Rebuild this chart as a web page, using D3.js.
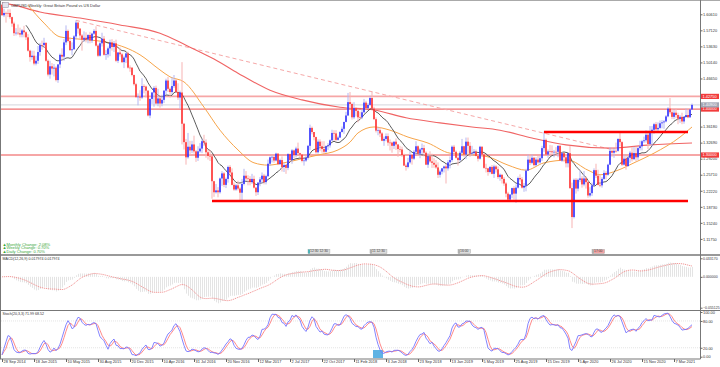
<!DOCTYPE html>
<html lang="en">
<head>
<meta charset="utf-8">
<style>
  html, body { margin:0; padding:0; overflow:hidden; background:#fff; }
  svg { display:block; font-family:"Liberation Sans", Arial, sans-serif; }
  .tick text { font-size:3.9px; fill:#333; }
  .tick line { stroke:#666; }
</style>
</head>
<body>
<svg width="720" height="367"></svg>

<script src="https://cdn.jsdelivr.net/npm/d3@7"></script>
<script>
// GBPUSD weekly candles, week of 28 Sep 2014 .. week of 9 May 2021
var opens = [
1.627,1.604,1.609,1.609,1.609,1.600,1.586,1.565,1.566,1.565,
1.562,1.571,1.567,1.556,1.527,1.513,1.516,1.499,1.505,1.524,
1.539,1.539,1.544,1.505,1.475,1.493,1.488,1.490,1.463,1.497,
1.518,1.514,1.545,1.570,1.548,1.528,1.530,1.558,1.588,1.575,
1.560,1.551,1.555,1.551,1.561,1.549,1.564,1.570,1.538,1.516,
1.543,1.553,1.518,1.519,1.532,1.545,1.535,1.543,1.505,1.523,
1.519,1.502,1.512,1.521,1.490,1.490,1.474,1.454,1.426,1.427,
1.425,1.450,1.449,1.440,1.386,1.422,1.436,1.446,1.412,1.423,
1.412,1.420,1.440,1.462,1.444,1.437,1.450,1.462,1.437,1.425,
1.436,1.368,1.328,1.295,1.318,1.310,1.323,1.308,1.294,1.308,
1.314,1.330,1.327,1.306,1.298,1.297,1.243,1.219,1.223,1.219,
1.249,1.260,1.235,1.248,1.274,1.262,1.235,1.225,1.234,1.227,
1.218,1.237,1.255,1.249,1.248,1.241,1.248,1.229,1.219,1.240,
1.247,1.255,1.241,1.254,1.281,1.295,1.296,1.288,1.303,1.280,
1.289,1.274,1.278,1.272,1.302,1.289,1.310,1.300,1.314,1.304,
1.301,1.287,1.288,1.294,1.320,1.359,1.350,1.339,1.306,1.329,
1.319,1.313,1.307,1.319,1.321,1.332,1.348,1.347,1.333,1.338,
1.350,1.357,1.372,1.386,1.415,1.411,1.382,1.402,1.396,1.382,
1.382,1.393,1.414,1.402,1.409,1.424,1.401,1.378,1.353,1.354,
1.347,1.331,1.335,1.341,1.327,1.327,1.320,1.329,1.323,1.313,
1.312,1.300,1.277,1.274,1.284,1.300,1.292,1.307,1.319,1.303,
1.312,1.315,1.305,1.279,1.297,1.286,1.283,1.279,1.273,1.257,
1.264,1.271,1.275,1.271,1.284,1.289,1.318,1.307,1.294,1.289,
1.305,1.319,1.301,1.329,1.320,1.303,1.304,1.307,1.298,1.292,
1.318,1.301,1.272,1.271,1.263,1.274,1.259,1.275,1.269,1.252,
1.257,1.248,1.238,1.216,1.203,1.214,1.228,1.216,1.229,1.250,
1.247,1.229,1.233,1.266,1.290,1.283,1.294,1.278,1.290,1.284,
1.293,1.315,1.333,1.301,1.308,1.308,1.306,1.307,1.307,1.320,
1.288,1.304,1.295,1.282,1.304,1.228,1.165,1.246,1.227,1.246,
1.249,1.236,1.249,1.241,1.212,1.217,1.234,1.267,1.255,1.235,
1.234,1.248,1.261,1.257,1.279,1.309,1.305,1.309,1.309,1.335,
1.328,1.279,1.292,1.276,1.294,1.305,1.291,1.304,1.295,1.315,
1.319,1.330,1.332,1.344,1.324,1.352,1.355,1.367,1.356,1.359,
1.369,1.371,1.373,1.384,1.401,1.393,1.383,1.392,1.387,1.379,
1.383,1.373,1.383,1.387,1.382,1.399];

var highs = [
1.628,1.618,1.612,1.617,1.617,1.601,1.590,1.576,1.584,1.577,
1.574,1.581,1.569,1.563,1.529,1.527,1.527,1.516,1.537,1.544,
1.549,1.555,1.545,1.508,1.505,1.500,1.498,1.493,1.498,1.521,
1.532,1.552,1.582,1.573,1.556,1.545,1.561,1.593,1.590,1.576,
1.563,1.569,1.567,1.563,1.568,1.566,1.574,1.580,1.541,1.546,
1.566,1.559,1.528,1.536,1.551,1.552,1.548,1.551,1.524,1.534,
1.522,1.516,1.523,1.525,1.495,1.491,1.475,1.457,1.434,1.441,
1.467,1.454,1.451,1.441,1.423,1.437,1.450,1.451,1.444,1.428,
1.431,1.441,1.466,1.470,1.447,1.469,1.474,1.465,1.456,1.440,
1.502,1.370,1.335,1.348,1.331,1.331,1.342,1.311,1.319,1.326,
1.335,1.344,1.334,1.312,1.310,1.298,1.244,1.237,1.230,1.251,
1.265,1.263,1.251,1.277,1.278,1.271,1.240,1.237,1.244,1.230,
1.248,1.270,1.265,1.256,1.254,1.259,1.255,1.230,1.241,1.252,
1.262,1.259,1.257,1.290,1.297,1.299,1.297,1.305,1.304,1.292,
1.297,1.282,1.281,1.304,1.303,1.313,1.312,1.318,1.327,1.305,
1.302,1.295,1.298,1.322,1.366,1.362,1.350,1.340,1.334,1.334,
1.330,1.330,1.321,1.326,1.334,1.355,1.354,1.354,1.342,1.352,
1.362,1.372,1.394,1.435,1.437,1.414,1.415,1.404,1.400,1.394,
1.401,1.422,1.418,1.413,1.429,1.438,1.405,1.382,1.360,1.361,
1.350,1.340,1.347,1.347,1.334,1.329,1.329,1.336,1.323,1.320,
1.318,1.303,1.281,1.294,1.310,1.301,1.311,1.330,1.321,1.315,
1.325,1.322,1.308,1.304,1.308,1.303,1.293,1.289,1.284,1.268,
1.272,1.277,1.280,1.289,1.297,1.321,1.322,1.310,1.297,1.309,
1.335,1.320,1.338,1.338,1.328,1.320,1.313,1.312,1.300,1.320,
1.319,1.304,1.281,1.272,1.276,1.278,1.279,1.278,1.275,1.260,
1.258,1.252,1.241,1.220,1.215,1.229,1.232,1.236,1.253,1.258,
1.252,1.239,1.270,1.301,1.301,1.301,1.296,1.295,1.298,1.298,
1.320,1.351,1.336,1.312,1.322,1.321,1.311,1.317,1.321,1.321,
1.307,1.305,1.302,1.306,1.320,1.240,1.249,1.250,1.249,1.267,
1.254,1.265,1.253,1.245,1.230,1.240,1.271,1.281,1.268,1.256,
1.252,1.267,1.265,1.281,1.317,1.317,1.315,1.327,1.336,1.348,
1.330,1.301,1.298,1.298,1.309,1.317,1.318,1.318,1.318,1.331,
1.333,1.340,1.354,1.353,1.363,1.363,1.370,1.372,1.371,1.375,
1.376,1.376,1.387,1.404,1.424,1.402,1.399,1.401,1.392,1.387,
1.392,1.384,1.401,1.400,1.400,1.412];

var lows = [
1.603,1.600,1.588,1.600,1.596,1.579,1.559,1.560,1.561,1.556,
1.556,1.556,1.550,1.525,1.503,1.507,1.495,1.495,1.498,1.516,
1.529,1.533,1.503,1.471,1.466,1.475,1.471,1.460,1.457,1.489,
1.506,1.505,1.539,1.545,1.527,1.517,1.529,1.551,1.564,1.551,
1.527,1.546,1.545,1.543,1.543,1.544,1.561,1.536,1.513,1.514,
1.536,1.516,1.507,1.512,1.515,1.527,1.524,1.502,1.500,1.514,
1.500,1.489,1.500,1.488,1.481,1.471,1.451,1.424,1.408,1.418,
1.422,1.434,1.425,1.384,1.380,1.411,1.405,1.410,1.406,1.403,
1.406,1.413,1.432,1.437,1.425,1.432,1.446,1.435,1.420,1.401,
1.323,1.312,1.279,1.292,1.300,1.304,1.303,1.285,1.287,1.305,
1.304,1.320,1.294,1.290,1.287,1.205,1.209,1.216,1.208,1.216,
1.233,1.230,1.228,1.240,1.256,1.234,1.222,1.222,1.223,1.200,
1.199,1.234,1.245,1.234,1.234,1.237,1.227,1.211,1.213,1.232,
1.238,1.236,1.236,1.252,1.276,1.284,1.283,1.286,1.278,1.279,
1.264,1.263,1.259,1.267,1.285,1.281,1.293,1.295,1.303,1.294,
1.284,1.277,1.285,1.290,1.311,1.345,1.332,1.303,1.303,1.309,
1.305,1.303,1.305,1.311,1.316,1.330,1.331,1.330,1.331,1.337,
1.349,1.346,1.371,1.385,1.404,1.377,1.378,1.384,1.371,1.378,
1.378,1.391,1.399,1.400,1.407,1.400,1.376,1.349,1.343,1.339,
1.330,1.320,1.330,1.320,1.310,1.305,1.313,1.311,1.296,1.306,
1.296,1.276,1.266,1.271,1.281,1.279,1.289,1.301,1.299,1.293,
1.301,1.297,1.278,1.272,1.283,1.272,1.272,1.270,1.250,1.251,
1.258,1.262,1.238,1.266,1.271,1.285,1.300,1.292,1.277,1.286,
1.302,1.296,1.291,1.300,1.296,1.298,1.302,1.297,1.286,1.290,
1.296,1.270,1.262,1.255,1.260,1.258,1.250,1.262,1.248,1.244,
1.238,1.233,1.208,1.202,1.200,1.206,1.203,1.196,1.227,1.242,
1.227,1.220,1.221,1.265,1.278,1.280,1.275,1.276,1.281,1.281,
1.287,1.307,1.300,1.294,1.300,1.301,1.295,1.298,1.295,1.287,
1.285,1.285,1.273,1.273,1.226,1.141,1.162,1.216,1.221,1.241,
1.229,1.232,1.227,1.207,1.208,1.211,1.232,1.250,1.234,1.230,
1.229,1.246,1.247,1.255,1.278,1.296,1.294,1.305,1.307,1.319,
1.276,1.277,1.268,1.274,1.283,1.286,1.289,1.286,1.289,1.310,
1.310,1.326,1.327,1.313,1.322,1.319,1.346,1.353,1.350,1.356,
1.358,1.357,1.371,1.382,1.389,1.378,1.378,1.380,1.367,1.370,
1.367,1.368,1.381,1.380,1.381,1.398];

var closes = [
1.604,1.609,1.609,1.609,1.600,1.586,1.565,1.566,1.565,1.562,
1.571,1.567,1.556,1.527,1.513,1.516,1.499,1.505,1.524,1.539,
1.539,1.544,1.505,1.475,1.493,1.488,1.490,1.463,1.497,1.518,
1.514,1.545,1.570,1.548,1.528,1.530,1.558,1.588,1.575,1.560,
1.551,1.555,1.551,1.561,1.549,1.564,1.570,1.538,1.516,1.543,
1.553,1.518,1.519,1.532,1.545,1.535,1.543,1.505,1.523,1.519,
1.502,1.512,1.521,1.490,1.490,1.474,1.454,1.426,1.427,1.425,
1.450,1.449,1.440,1.386,1.422,1.436,1.446,1.412,1.423,1.412,
1.420,1.440,1.462,1.444,1.437,1.450,1.462,1.437,1.425,1.436,
1.368,1.328,1.295,1.318,1.310,1.323,1.308,1.294,1.308,1.314,
1.330,1.327,1.306,1.298,1.297,1.243,1.219,1.223,1.219,1.249,
1.260,1.235,1.248,1.274,1.262,1.235,1.225,1.234,1.227,1.218,
1.237,1.255,1.249,1.248,1.241,1.248,1.229,1.219,1.240,1.247,
1.255,1.241,1.254,1.281,1.295,1.296,1.288,1.303,1.280,1.289,
1.274,1.278,1.272,1.302,1.289,1.310,1.300,1.314,1.304,1.301,
1.287,1.288,1.294,1.320,1.359,1.350,1.339,1.306,1.329,1.319,
1.313,1.307,1.319,1.321,1.332,1.348,1.347,1.333,1.338,1.350,
1.357,1.372,1.386,1.415,1.411,1.382,1.402,1.396,1.382,1.382,
1.393,1.414,1.402,1.409,1.424,1.401,1.378,1.353,1.354,1.347,
1.331,1.335,1.341,1.327,1.327,1.320,1.329,1.323,1.313,1.312,
1.300,1.277,1.274,1.284,1.300,1.292,1.307,1.319,1.303,1.312,
1.315,1.305,1.279,1.297,1.286,1.283,1.279,1.273,1.257,1.264,
1.271,1.275,1.271,1.284,1.289,1.318,1.307,1.294,1.289,1.305,
1.319,1.301,1.329,1.320,1.303,1.304,1.307,1.298,1.292,1.318,
1.301,1.272,1.271,1.263,1.274,1.259,1.275,1.269,1.252,1.257,
1.248,1.238,1.216,1.203,1.214,1.228,1.216,1.229,1.250,1.247,
1.229,1.233,1.266,1.290,1.283,1.294,1.278,1.290,1.284,1.293,
1.315,1.333,1.301,1.308,1.308,1.306,1.307,1.307,1.320,1.288,
1.304,1.295,1.282,1.304,1.228,1.165,1.246,1.227,1.246,1.249,
1.236,1.249,1.241,1.212,1.217,1.234,1.267,1.255,1.235,1.234,
1.248,1.261,1.257,1.279,1.309,1.305,1.309,1.309,1.335,1.328,
1.279,1.292,1.276,1.294,1.305,1.291,1.304,1.295,1.315,1.319,
1.330,1.332,1.344,1.324,1.352,1.355,1.367,1.356,1.359,1.369,
1.371,1.373,1.384,1.401,1.393,1.383,1.392,1.387,1.379,1.383,
1.373,1.383,1.387,1.382,1.399,1.409];

var firstWeek = new Date(2014, 8, 28);

// slow (orange) and 200 week (red) averages
var maSlowWeek = [13,21,29,39,54,69,79,84,91,101,109,118,126,133,141,151,158,168,174,178,186,194,203,213,224,236,243,253,262,271,283,293,299,308,316,326,339,345];
var maSlowVal = [1.626,1.587,1.557,1.552,1.544,1.518,1.485,1.470,1.459,1.404,1.354,1.311,1.283,1.278,1.283,1.293,1.300,1.311,1.328,1.348,1.361,1.354,1.339,1.326,1.304,1.300,1.296,1.278,1.267,1.283,1.289,1.267,1.257,1.267,1.283,1.304,1.339,1.361];
var ma200Week = [0,6,19,39,59,79,92,100,106,118,134,150,169,186,202,219,235,249,265,282,304,324,345];
var ma200Val = [1.631,1.626,1.611,1.598,1.583,1.565,1.539,1.522,1.509,1.478,1.441,1.420,1.404,1.398,1.381,1.370,1.361,1.354,1.337,1.322,1.315,1.322,1.326];

// drawn objects
var levelVals = [1.4275, 1.40, 1.30];
var zoneVals = [1.35, 1.20];
var zoneFrom = [271, 105];
var zoneTo = [343, 343];
var trendWeek = [37, 306];
var trendVal = [1.593, 1.3107];

var priceTicks = [1.6061, 1.5712, 1.5363, 1.5014, 1.4665, 1.3618, 1.3269, 1.2920, 1.2571, 1.2222, 1.1873, 1.1524, 1.1175];
var macdTicks = [0.03317, 0, -0.055125];
var stochTicks = [100, 80, 20, 0];

var changeLines = ["Monthly Change: 2.08%", "Weekly Change: 0.70%", "Daily Change: 0.70%"];
var eventWeek = [153, 184, 228, 295];
var eventText = ["12:30  12:30", "11  12:30", "16:00", "17:00"];

var svg = d3.select("svg");
var axisX = 700.5;

var xIdx = d3.scaleLinear().domain([0, 345]).range([2, 692]);
var week = function (i) { return d3.timeWeek.offset(firstWeek, i); };
var xTime = d3.scaleTime().domain([week(0), week(345)]).range([2, 692]);

var yPrice = d3.scaleLinear().domain([1.1175, 1.6061]).range([238.9, 14.3]);
var yMacd = d3.scaleLinear().domain([-0.055125, 0.03317]).range([307.7, 258.3]);
var yStoch = d3.scaleLinear().domain([0, 100]).range([356.7, 312]);

// indicators
function sma(arr, n) {
    return arr.map(function (v, i) { return d3.mean(arr.slice(Math.max(0, i - n + 1), i + 1)); });
}
function ema(arr, n) {
    var k = 2 / (n + 1), e = arr[0];
    return arr.map(function (v) { e = v * k + e * (1 - k); return e; });
}
var maFast = sma(closes, 13);
var e12 = ema(closes, 12), e26 = ema(closes, 26);
var macd = closes.map(function (c, i) { return e12[i] - e26[i]; });
var macdSig = sma(macd, 9);
var num = [], den = [];
closes.forEach(function (c, i) {
    var s = Math.max(0, i - 19);
    var ll = d3.min(lows.slice(s, i + 1)), hh = d3.max(highs.slice(s, i + 1));
    num.push(c - ll); den.push(hh - ll);
});
var stochK = closes.map(function (c, i) {
    var s = Math.max(0, i - 2);
    return 100 * d3.sum(num.slice(s, i + 1)) / d3.sum(den.slice(s, i + 1));
});
var stochD = sma(stochK, 3);

// clip paths
var defs = svg.append("defs");
[["clipMain", 1, 254], ["clipMacd", 256, 310], ["clipStoch", 311, 358.5]].forEach(function (c) {
    defs.append("clipPath").attr("id", c[0]).append("rect")
        .attr("x", 1).attr("y", c[1]).attr("width", 699).attr("height", c[2] - c[1]);
});

// ---------- main panel ----------
var gMain = svg.append("g").attr("clip-path", "url(#clipMain)");

gMain.selectAll(".level")
    .data(levelVals)
    .enter().append("line")
    .attr("x1", 1).attr("x2", 700)
    .attr("y1", function (d) { return yPrice(d); })
    .attr("y2", function (d) { return yPrice(d); })
    .attr("stroke", function (d, i) { return i == 1 ? "#f07272" : "#f6a6a6"; })
    .attr("stroke-width", function (d, i) { return i == 1 ? 1.3 : 1.8; });

gMain.append("line")
    .attr("x1", 1).attr("x2", 700)
    .attr("y1", yPrice(closes[closes.length - 1]))
    .attr("y2", yPrice(closes[closes.length - 1]))
    .attr("stroke", "#c9ccd4").attr("stroke-width", 0.8);

gMain.append("line")
    .attr("x1", xIdx(trendWeek[0])).attr("y1", yPrice(trendVal[0]))
    .attr("x2", xIdx(trendWeek[1])).attr("y2", yPrice(trendVal[1]))
    .attr("stroke", "#f6a8a8").attr("stroke-width", 1)
    .attr("stroke-dasharray", "4,3");

gMain.append("path")
    .datum(d3.zip(ma200Week, ma200Val))
    .attr("fill", "none").attr("stroke", "#f06464").attr("stroke-width", 1.1)
    .attr("d", d3.line().curve(d3.curveMonotoneX)
        .x(function (d) { return xIdx(d[0]); }).y(function (d) { return yPrice(d[1]); }));

gMain.append("path")
    .datum(d3.zip(maSlowWeek, maSlowVal))
    .attr("fill", "none").attr("stroke", "#f7a54a").attr("stroke-width", 1)
    .attr("d", d3.line().curve(d3.curveMonotoneX)
        .x(function (d) { return xIdx(d[0]); }).y(function (d) { return yPrice(d[1]); }));

gMain.append("path")
    .datum(d3.range(12, closes.length))
    .attr("fill", "none").attr("stroke", "#4a4a4a").attr("stroke-width", 0.9)
    .attr("d", d3.line()
        .x(function (i) { return xIdx(i); }).y(function (i) { return yPrice(maFast[i]); }));

var bar = gMain.selectAll(".bar")
    .data(d3.range(closes.length))
    .enter().append("g").attr("class", "bar");

bar.append("line")
    .attr("x1", function (i) { return xIdx(i); })
    .attr("x2", function (i) { return xIdx(i); })
    .attr("y1", function (i) { return yPrice(highs[i]); })
    .attr("y2", function (i) { return yPrice(lows[i]); })
    .attr("stroke", function (i) { return closes[i] > opens[i] ? "#b3b6f2" : "#f7b3b3"; })
    .attr("stroke-width", 1);

bar.append("rect")
    .attr("x", function (i) { return xIdx(i) - 0.7; })
    .attr("width", 1.4)
    .attr("y", function (i) { return yPrice(Math.max(opens[i], closes[i])); })
    .attr("height", function (i) { return Math.max(0.6, Math.abs(yPrice(opens[i]) - yPrice(closes[i]))); })
    .attr("fill", function (i) { return closes[i] > opens[i] ? "#1c1cff" : "#ff1c1c"; });

gMain.selectAll(".zone")
    .data(zoneVals)
    .enter().append("line")
    .attr("x1", function (d, i) { return xIdx(zoneFrom[i]); })
    .attr("x2", function (d, i) { return xIdx(zoneTo[i]); })
    .attr("y1", function (d) { return yPrice(d); })
    .attr("y2", function (d) { return yPrice(d); })
    .attr("stroke", "#ff0000").attr("stroke-width", 2.6);

// title
svg.append("rect").attr("x", 2.5).attr("y", 2.5).attr("width", 6).attr("height", 5)
    .attr("fill", "#e4e4ee").attr("stroke", "#8a8aa0").attr("stroke-width", 0.5);
svg.append("text").attr("x", 11).attr("y", 6.6)
    .attr("font-size", 3.9).attr("fill", "#333")
    .text("GBPUSD,Weekly:  Great Britain Pound vs US Dollar");

// change info
changeLines.forEach(function (t, i) {
    svg.append("text").attr("x", 2.5).attr("y", 245.5 + i * 3.9)
        .attr("font-size", 4.1).attr("fill", "#3aa83a")
        .text("\u25B2" + t);
});

// event labels along the bottom of the price panel
eventWeek.forEach(function (w, i) {
    var g = svg.append("g").attr("transform", "translate(" + xIdx(w) + ",250)");
    var t = g.append("text").attr("x", 2).attr("y", 2.4)
        .attr("font-size", 3.4).attr("fill", "#444").text(eventText[i]);
    var wdt = t.node().getComputedTextLength() + 4;
    g.insert("rect", "text").attr("x", 0).attr("y", -0.5).attr("width", wdt).attr("height", 4)
        .attr("fill", i == 3 ? "#f2a2a2" : "#dcdcdc").attr("stroke", "#9a9a9a").attr("stroke-width", 0.4);
    g.insert("rect", "text").attr("x", 0).attr("y", -0.5).attr("width", 2).attr("height", 4)
        .attr("fill", i == 0 ? "#4fb2b8" : "#b0b0b0");
});

// ---------- MACD ----------
var gMacd = svg.append("g").attr("clip-path", "url(#clipMacd)");
gMacd.selectAll(".hist")
    .data(macd)
    .enter().append("line")
    .attr("x1", function (d, i) { return xIdx(i) + 0.5; })
    .attr("x2", function (d, i) { return xIdx(i) + 0.5; })
    .attr("y1", yMacd(0))
    .attr("y2", function (d) { return yMacd(d); })
    .attr("stroke", "#d2d2d2").attr("stroke-width", 0.6);
gMacd.append("path")
    .datum(macdSig)
    .attr("fill", "none").attr("stroke", "#f39a9a").attr("stroke-width", 1)
    .attr("stroke-dasharray", "1.2,0.8")
    .attr("d", d3.line().x(function (d, i) { return xIdx(i); }).y(function (d) { return yMacd(d); }));
svg.append("text").attr("x", 2.5).attr("y", 259.5)
    .attr("font-size", 3.6).attr("fill", "#333")
    .text("MACD(12,26,9) 0.017974 0.017974");

// ---------- Stochastic ----------
var gSto = svg.append("g").attr("clip-path", "url(#clipStoch)");
gSto.selectAll(".lvl")
    .data([80, 20])
    .enter().append("line")
    .attr("x1", 1).attr("x2", 700)
    .attr("y1", function (d) { return yStoch(d); })
    .attr("y2", function (d) { return yStoch(d); })
    .attr("stroke", "#d4d4d4").attr("stroke-width", 0.6).attr("stroke-dasharray", "1,1");
gSto.append("rect")
    .attr("x", xIdx(185.5)).attr("width", xIdx(190.5) - xIdx(185.5))
    .attr("y", yStoch(15)).attr("height", yStoch(0) - yStoch(15) + 1.5)
    .attr("fill", "#5fb3e4");
gSto.append("path")
    .datum(stochD)
    .attr("fill", "none").attr("stroke", "#ff7c7c").attr("stroke-width", 0.9)
    .attr("d", d3.line().x(function (d, i) { return xIdx(i); }).y(function (d) { return yStoch(d); }));
gSto.append("path")
    .datum(stochK)
    .attr("fill", "none").attr("stroke", "#7676ff").attr("stroke-width", 0.9)
    .attr("d", d3.line().x(function (d, i) { return xIdx(i); }).y(function (d) { return yStoch(d); }));
svg.append("text").attr("x", 2.5).attr("y", 314.8)
    .attr("font-size", 3.6).attr("fill", "#333")
    .text("Stoch(20,3,3) 71.99 68.52");

// ---------- frame ----------
var frame = svg.append("g").attr("stroke", "#777").attr("fill", "none");
frame.append("line").attr("x1", 0.5).attr("x2", 0.5).attr("y1", 0).attr("y2", 359);
frame.append("line").attr("x1", 0).attr("x2", 720).attr("y1", 0.5).attr("y2", 0.5).attr("stroke", "#aaa");
frame.append("line").attr("x1", axisX).attr("x2", axisX).attr("y1", 0).attr("y2", 359);
[255, 310.5].forEach(function (y) {
    frame.append("line").attr("x1", 0).attr("x2", 720).attr("y1", y).attr("y2", y)
        .attr("stroke-width", y == 255 ? 1.6 : 1.2);
});
frame.append("line").attr("x1", 0).attr("x2", axisX).attr("y1", 359).attr("y2", 359);

// ---------- axes ----------
function rightAxis(scale, ticks, fmt, size) {
    var g = svg.append("g").attr("transform", "translate(" + axisX + ",0)")
        .call(d3.axisRight(scale).tickValues(ticks).tickSize(2).tickFormat(fmt));
    g.select(".domain").remove();
    g.selectAll("text").attr("x", 2.5).style("font-size", size + "px");
    return g;
}
rightAxis(yPrice, priceTicks, d3.format(".5f"), 3.9);
rightAxis(yMacd, macdTicks, d3.format(".6f"), 3.5);
rightAxis(yStoch, stochTicks, d3.format(".2f"), 3.9);

var gx = svg.append("g").attr("transform", "translate(0,359)")
    .call(d3.axisBottom(xTime)
        .tickValues(d3.range(0, 346, 16).map(week))
        .tickSize(3)
        .tickFormat(d3.timeFormat("%-d %b %Y")));
gx.select(".domain").remove();
gx.selectAll("text").attr("text-anchor", "start").attr("x", 1).attr("y", 1.6);

// price tags on the axis
var tags = levelVals.map(function (v) { return { v: v, c: "#f23c3c" }; });
tags.push({ v: closes[closes.length - 1], c: "#a2a6b4" });
tags.forEach(function (t) {
    svg.append("rect").attr("x", 701).attr("y", yPrice(t.v) - 2.6)
        .attr("width", 18).attr("height", 5.2).attr("fill", t.c);
    svg.append("text").attr("x", 702.5).attr("y", yPrice(t.v) + 1.4)
        .attr("font-size", 3.9).attr("fill", "#fff")
        .text(d3.format(".5f")(t.v));
});
</script>
</body>
</html>
